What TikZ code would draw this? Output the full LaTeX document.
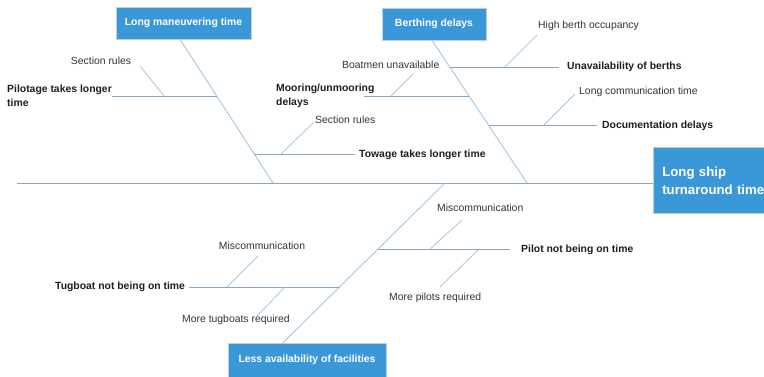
\documentclass[tikz,border=0pt]{standalone}
\usepackage{fontspec}
\setmainfont{Liberation Sans}
\usetikzlibrary{calc}
\definecolor{boxblue}{HTML}{3A98D9}
\definecolor{boxedge}{HTML}{C5CED6}
\definecolor{spinec}{HTML}{8BA5BD}
\definecolor{bonec}{HTML}{A3C6E4}
\definecolor{txt}{HTML}{1E1E1E}
\definecolor{txtl}{HTML}{333333}
\begin{document}
\begin{tikzpicture}[x=1pt,y=-1pt,
  cause/.style={fill=boxblue,draw=boxedge,line width=0.6pt,text=white,
    font=\fontsize{10.4}{12}\selectfont\bfseries,inner sep=0pt},
  lbl/.style={font=\fontsize{10.4}{12}\selectfont,text=txtl,inner sep=0pt,
    text height=7.5pt,text depth=0pt},
  blbl/.style={lbl,font=\fontsize{10.4}{12}\selectfont\bfseries,text=txt},
  blbltwo/.style={font=\fontsize{10.4}{13.5}\selectfont\bfseries,text=txt,
    inner sep=0pt,align=left},
  spine/.style={draw=spinec,line width=0.9pt},
  bone/.style={draw=bonec,line width=0.9pt},
  twig/.style={draw=bonec,line width=0.8pt}]
\useasboundingbox (0,0) rectangle (764,377);

% category boxes
\node[cause,minimum width=135pt,minimum height=32pt] (A) at (183.5,23) {Long maneuvering time};
\node[cause,minimum width=104pt,minimum height=32pt] (B) at (434,24) {Berthing delays};
\node[cause,minimum width=158pt,minimum height=34pt] (C) at (307,360) {Less availability of facilities};
\node[cause,anchor=north west,minimum height=66pt,text width=135pt,inner xsep=9pt,
  align=left,font=\fontsize{13.2}{18}\selectfont\bfseries] (E) at (653,147) {Long ship\\turnaround time};

% spine
\coordinate (s0) at (17,183);
\draw[spine] (s0) -- (s0 -| E.west);

% main bones
\coordinate (a0) at (273,183);
\coordinate (a1) at (217,96);
\coordinate (a2) at (254,154);
\coordinate (b0) at (527,183);
\coordinate (b1) at (450,67);
\coordinate (b2) at (469,96);
\coordinate (b3) at (489,125);
\coordinate (c0) at (445,183);
\coordinate (c1) at (340,287);
\coordinate (c2) at (378,249);
\draw[bone] ([xshift=-3.5pt]A.south) -- (a0);
\draw[bone] ([xshift=-2pt]B.south) -- (b0);
\draw[bone] ([xshift=-24pt]C.north) -- (c0);

% A1: Pilotage
\node[blbltwo,anchor=north west] (P) at (7,85) {Pilotage takes longer\\time};
\draw[spine] (P.east |- a1) -- (a1);
\node[lbl] (sr1) at (101,61) {Section rules};
\coordinate (p1) at (164,96); \coordinate (p1t) at (140,66);
\draw[twig] (p1) -- (p1t);

% A2: Towage
\node[blbl,anchor=west] (T) at (359,154) {Towage takes longer time};
\draw[spine] (a2) -- ([xshift=-4pt]T.west);
\node[lbl,anchor=west] (sr2) at (315,120) {Section rules};
\coordinate (p2) at (281,154); \coordinate (p2t) at (314,122);
\draw[twig] (p2) -- (p2t);

% B1: berths
\node[blbl,anchor=west] (U) at (567,66) {Unavailability of berths};
\draw[spine] (b1) -- ([xshift=-8pt]U.west |- b1);
\node[lbl,anchor=west] (H) at (538,25) {High berth occupancy};
\coordinate (q1) at (505,67); \coordinate (q1t) at (537,35);
\draw[twig] (q1) -- (q1t);

% B2: mooring
\node[blbltwo,anchor=north west] (M) at (276,84) {Mooring/unmooring\\delays};
\coordinate (m0) at (364,96);
\draw[spine] (m0) -- (b2);
\node[lbl,anchor=west] (BU) at (342,65) {Boatmen unavailable};
\coordinate (q2) at (391,96); \coordinate (q2t) at (413,74);
\draw[twig] (q2) -- (q2t);

% B3: documentation
\node[blbl,anchor=west] (D) at (602,125) {Documentation delays};
\draw[spine] (b3) -- ([xshift=-5pt]D.west);
\node[lbl,anchor=west] (LC) at (579,91) {Long communication time};
\coordinate (q3) at (544,125); \coordinate (q3t) at (575,94);
\draw[twig] (q3) -- (q3t);

% C1: tugboat
\node[blbl,anchor=west] (TG) at (55,286) {Tugboat not being on time};
\draw[spine] ([xshift=4pt]TG.east |- c1) -- (c1);
\node[lbl] (MC1) at (262,246) {Miscommunication};
\coordinate (r1) at (227,287); \coordinate (r1t) at (258,256);
\draw[twig] (r1) -- (r1t);
\node[lbl,anchor=west] (MT) at (182,319) {More tugboats required};
\coordinate (r2) at (285,287); \coordinate (r2t) at (257,316);
\draw[twig] (r2) -- (r2t);

% C2: pilot
\node[blbl,anchor=west] (PN) at (521,249) {Pilot not being on time};
\draw[spine] (c2) -- ([xshift=-11pt]PN.west);
\node[lbl,anchor=west] (MC2) at (437,208) {Miscommunication};
\coordinate (r3) at (430,249); \coordinate (r3t) at (462,220);
\draw[twig] (r3) -- (r3t);
\node[lbl,anchor=west] (MP) at (389,297) {More pilots required};
\coordinate (r4) at (479,249); \coordinate (r4t) at (440,287);
\draw[twig] (r4) -- (r4t);
\end{tikzpicture}
\end{document}
